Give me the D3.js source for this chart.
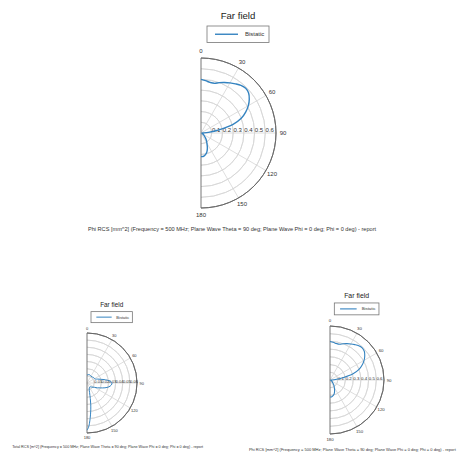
<!DOCTYPE html>
<html>
<head>
<meta charset="utf-8">
<script src="https://cdn.jsdelivr.net/npm/d3@7"></script>
<style>
  html, body { margin: 0; padding: 0; background: #fff; }
  svg { display: block; font-family: "Liberation Sans", Arial, sans-serif; }
</style>
</head>
<body>
<svg id="chart" width="462" height="454"></svg>
<script>
// Bistatic far-field RCS cuts (Phi = 0 deg plane), angle theta in degrees
const phiTheta = [0, 5, 10, 15, 20, 25, 30, 35, 40, 45, 50, 55, 60, 65, 70, 75, 80, 85, 90,
                  95, 100, 105, 110, 115, 120, 125, 130, 135, 140, 145, 150, 155, 160, 165, 170, 175, 180];
// Phi RCS [mm^2]
const phiRcs = [0.50, 0.49, 0.48, 0.48, 0.50, 0.52, 0.54, 0.56, 0.58, 0.59, 0.58, 0.55, 0.51, 0.46, 0.40, 0.31, 0.17, 0.07, 0.02,
                0.01, 0.01, 0.01, 0.01, 0.015, 0.02, 0.03, 0.04, 0.05, 0.07, 0.09, 0.11, 0.14, 0.17, 0.195, 0.21, 0.22, 0.22];

const totalTheta = [0, 10, 20, 30, 40, 50, 60, 65, 70, 75, 80, 85, 90, 95, 100, 105, 110, 115, 120,
                    130, 140, 150, 160, 165, 168, 170, 172, 175, 178, 180];
// Total RCS [m^2]
const totalRcs = [0.011, 0.012, 0.012, 0.011, 0.011, 0.012, 0.012, 0.013, 0.016, 0.020, 0.026, 0.032, 0.035, 0.034, 0.031, 0.026, 0.020, 0.016, 0.012,
                  0.009, 0.007, 0.007, 0.009, 0.014, 0.022, 0.030, 0.038, 0.050, 0.062, 0.066];

const angleTicks = [0, 30, 60, 90, 120, 150, 180];
const phiRings = [0.1, 0.2, 0.3, 0.4, 0.5, 0.6, 0.7];
const phiRingLabels = ["0.1", "0.2", "0.3", "0.4", "0.5", "0.6"];
const totalRings = [0.01, 0.02, 0.03, 0.04, 0.05, 0.06, 0.07];
const totalRingLabels = ["0.01", "0.02", "0.03", "0.04", "0.05", "0.06"];

const titleText = "Far field";
const legendText = "Bistatic";
const phiCaption = "Phi RCS [mm^2] (Frequency = 500 MHz; Plane Wave Theta = 90 deg; Plane Wave Phi = 0 deg; Phi = 0 deg) - report";
const totalCaption = "Total RCS [m^2] (Frequency = 500 MHz; Plane Wave Theta = 90 deg; Plane Wave Phi = 0 deg; Phi = 0 deg) - report";

const LINE = "#3483c0";
const svg = d3.select("#chart");

// One half-polar report panel; k scales every size relative to the main panel
function drawPanel(cfg) {
  const { cx, cy, k, thetas, values, rings, ringLabels, caption, lineWidth } = cfg;
  const R = 75 * k;
  const rMax = rings[rings.length - 1];
  const g = svg.append("g").attr("transform", `translate(${cx},${cy})`);

  const ang = d3.scaleLinear().domain([0, 180]).range([0, Math.PI]);
  const rad = d3.scaleLinear().domain([0, rMax]).range([0, R]);

  // rings
  const arc = d3.arc().startAngle(0).endAngle(Math.PI);
  g.selectAll("path.ring").data(rings.slice(0, -1)).join("path")
    .attr("class", "ring")
    .attr("d", d => arc({ innerRadius: rad(d), outerRadius: rad(d) }))
    .attr("fill", "none").attr("stroke", "#d6d6d6").attr("stroke-width", 0.8);

  // spokes
  g.selectAll("line.spoke").data(angleTicks.filter(a => a > 0 && a < 180)).join("line")
    .attr("class", "spoke")
    .attr("x1", 0).attr("y1", 0)
    .attr("x2", d => R * Math.sin(ang(d)))
    .attr("y2", d => -R * Math.cos(ang(d)))
    .attr("stroke", "#d6d6d6").attr("stroke-width", 0.8);

  // outer boundary and axis
  g.append("path")
    .attr("d", arc({ innerRadius: R, outerRadius: R }))
    .attr("fill", "none").attr("stroke", "#666").attr("stroke-width", 0.9);
  g.append("line").attr("x1", 0).attr("x2", 0).attr("y1", -R).attr("y2", R)
    .attr("stroke", "#666").attr("stroke-width", 0.9);

  // angle labels
  g.selectAll("text.ang").data(angleTicks).join("text")
    .attr("class", "ang")
    .attr("x", d => (R + 7 * k) * Math.sin(ang(d)))
    .attr("y", d => -(R + 7 * k) * Math.cos(ang(d)))
    .attr("text-anchor", "middle").attr("dominant-baseline", "central")
    .attr("font-size", 6 * k).attr("fill", "#333")
    .text(d => d);

  // radial labels
  g.selectAll("text.rl").data(ringLabels).join("text")
    .attr("class", "rl")
    .attr("x", (d, i) => rad(rings[i]) + 0.3 * k)
    .attr("y", -0.6 * k)
    .attr("font-size", 6 * k).attr("fill", "#333")
    .text(d => d);

  // data curve
  const line = d3.lineRadial()
    .angle(d => ang(d[0]))
    .radius(d => rad(d[1]))
    .curve(d3.curveCatmullRom.alpha(0.5));
  g.append("path")
    .datum(thetas.map((t, i) => [t, values[i]]))
    .attr("d", line)
    .attr("fill", "none").attr("stroke", LINE).attr("stroke-width", lineWidth);

  // title
  g.append("text").attr("x", 37 * k).attr("y", -118 * k)
    .attr("text-anchor", "middle").attr("dominant-baseline", "central")
    .attr("font-size", 9.6 * k).attr("fill", "#222").text(titleText);

  // legend
  const lg = g.append("g").attr("transform", `translate(${6 * k},${-107 * k})`);
  lg.append("rect").attr("width", 62 * k).attr("height", 16.5 * k)
    .attr("fill", "#fff").attr("stroke", "#777").attr("stroke-width", 0.8);
  lg.append("line").attr("x1", 8 * k).attr("x2", 31 * k)
    .attr("y1", 8.25 * k).attr("y2", 8.25 * k)
    .attr("stroke", LINE).attr("stroke-width", lineWidth);
  lg.append("text").attr("x", 38 * k).attr("y", 8.25 * k)
    .attr("dominant-baseline", "central")
    .attr("font-size", 6 * k).attr("fill", "#333").text(legendText);

  // caption
  g.append("text").attr("x", 31 * k).attr("y", 96 * k)
    .attr("text-anchor", "middle").attr("dominant-baseline", "central")
    .attr("font-size", 5.6 * k).attr("fill", "#333").text(caption);
}

drawPanel({ cx: 201, cy: 133, k: 1, thetas: phiTheta, values: phiRcs,
            rings: phiRings, ringLabels: phiRingLabels, caption: phiCaption, lineWidth: 1.4 });
drawPanel({ cx: 87, cy: 383, k: 0.667, thetas: totalTheta, values: totalRcs,
            rings: totalRings, ringLabels: totalRingLabels, caption: totalCaption, lineWidth: 1.0 });
drawPanel({ cx: 330, cy: 380, k: 0.72, thetas: phiTheta, values: phiRcs,
            rings: phiRings, ringLabels: phiRingLabels, caption: phiCaption, lineWidth: 1.1 });
</script>
</body>
</html>
